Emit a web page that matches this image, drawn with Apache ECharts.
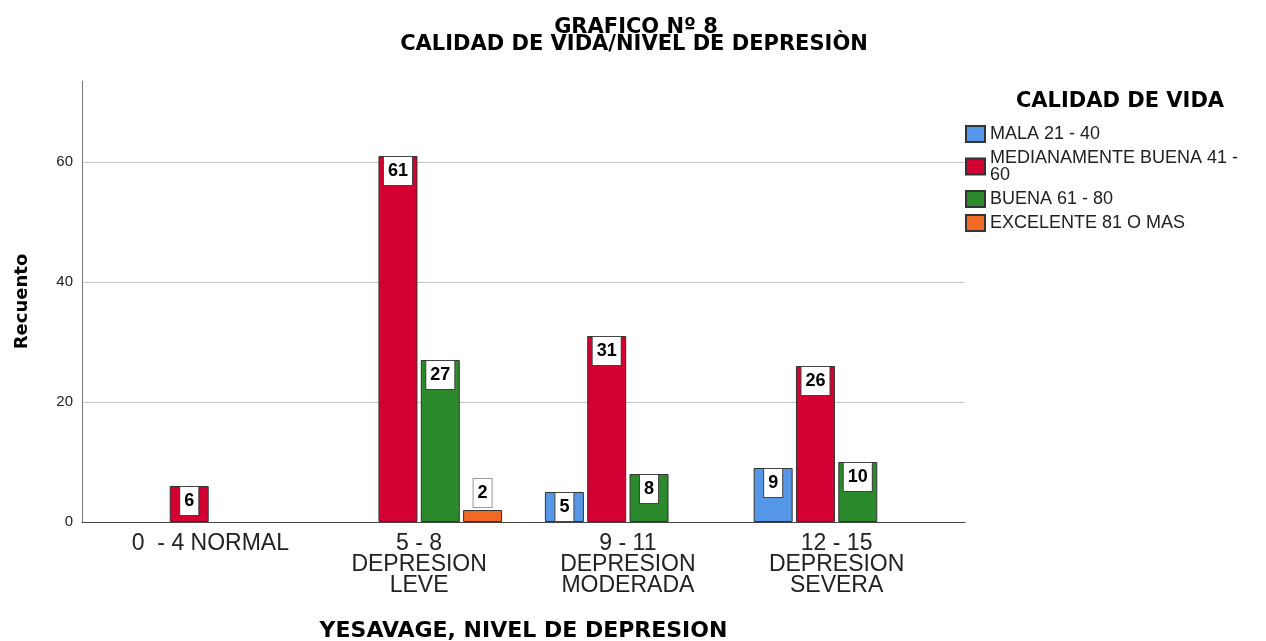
<!DOCTYPE html>
<html>
<head>
<meta charset="utf-8">
<script src="https://cdn.jsdelivr.net/npm/echarts@6/dist/echarts.min.js"></script>
<style>
html,body{margin:0;padding:0;background:#fff;}
#chart{width:1266px;height:641px;}
</style>
</head>
<body>
<div id="chart"></div>
<script>
var titleLine1 = 'GRAFICO Nº 8';
var titleLine2 = 'CALIDAD DE VIDA/NIVEL DE DEPRESIÒN';
var legendTitle = 'CALIDAD DE VIDA';
var xAxisName = 'YESAVAGE, NIVEL DE DEPRESION';
var yAxisName = 'Recuento';
var categories = ['0  - 4 NORMAL', '5 - 8\nDEPRESION\nLEVE', '9 - 11\nDEPRESION\nMODERADA', '12 - 15\nDEPRESION\nSEVERA'];
var seriesNames = ['MALA 21 - 40', 'MEDIANAMENTE BUENA 41 - 60', 'BUENA 61 - 80', 'EXCELENTE 81 O MAS'];
var mala = [null, null, 5, 9];
var medianamente = [6, 61, 31, 26];
var buena = [null, 27, 8, 10];
var excelente = [null, 2, null, null];
var seriesValues = [mala, medianamente, buena, excelente];
var seriesColors = ['#5596E6', '#D50032', '#2B8A2B', '#F06A26'];
var yMin = 0, yMax = 73.5, yInterval = 20;

var chart = echarts.init(document.getElementById('chart'));

function toData(vals) {
  return vals.map(function (v) {
    if (v === null) return null;
    if (v < 4) {
      return { value: v, label: { position: 'top', distance: 3, borderColor: '#999' } };
    }
    return v;
  });
}

function wrapLegend(name) {
  if (name.length <= 24) return name;
  var idx = name.lastIndexOf(' ', 24);
  return name.slice(0, idx) + '\n' + name.slice(idx + 1);
}

var font = 'Liberation Sans, Arial, sans-serif';
var headFont = 'DejaVu Sans, Liberation Sans, sans-serif';

var series = seriesNames.map(function (n, i) {
  return {
    name: n,
    type: 'bar',
    xAxisIndex: 1,
    yAxisIndex: 1,
    data: toData(seriesValues[i]),
    barWidth: 39,
    barGap: '8.5%',
    itemStyle: { color: seriesColors[i], borderColor: '#333', borderWidth: 1 },
    label: {
      show: true,
      position: 'insideTop',
      distance: 1,
      color: '#000',
      fontFamily: font,
      fontWeight: 'bold',
      fontSize: 18,
      lineHeight: 18,
      backgroundColor: '#fff',
      borderColor: '#444',
      borderWidth: 1,
      padding: [5, 4, 5, 4]
    },
    emphasis: { disabled: true }
  };
});

chart.setOption({
  animation: false,
  textStyle: { fontFamily: font },
  title: [
    { text: titleLine1, left: 636, top: 17, textAlign: 'center', padding: 0,
      textStyle: { fontFamily: headFont, fontSize: 21, fontWeight: 'bold', color: '#000', lineHeight: 21 } },
    { text: titleLine2, left: 634, top: 34, textAlign: 'center', padding: 0,
      textStyle: { fontFamily: headFont, fontSize: 21, fontWeight: 'bold', color: '#000', lineHeight: 21 } },
    { text: legendTitle, left: 1120, top: 91, textAlign: 'center', padding: 0,
      textStyle: { fontFamily: headFont, fontSize: 21, fontWeight: 'bold', color: '#000', lineHeight: 21 } }
  ],
  legend: {
    orient: 'vertical',
    left: 965,
    top: 125,
    padding: 0,
    itemWidth: 19,
    itemHeight: 16,
    itemGap: 6,
    icon: 'rect',
    selectedMode: false,
    data: seriesNames,
    formatter: wrapLegend,
    textStyle: { fontFamily: font, fontSize: 18, color: '#222', lineHeight: 17 }
  },
  grid: [
    { left: 82, right: 301, top: 81, bottom: 119, outerBoundsMode: 'none', containLabel: false },
    { left: 106, right: 325, top: 81, bottom: 119, outerBoundsMode: 'none', containLabel: false }
  ],
  xAxis: [
    {
      gridIndex: 0, type: 'value', min: 0, max: 1,
      axisLine: { show: true, lineStyle: { color: '#444', width: 1 } },
      axisTick: { show: false }, axisLabel: { show: false }, splitLine: { show: false },
      name: xAxisName, nameLocation: 'middle', nameGap: 98,
      nameTextStyle: { fontFamily: headFont, fontSize: 22, fontWeight: 'bold', color: '#000' }
    },
    {
      gridIndex: 1, type: 'category', data: categories,
      axisLine: { show: false }, axisTick: { show: false },
      axisLabel: { interval: 0, margin: 11, fontFamily: font, fontSize: 23, lineHeight: 21, color: '#222' }
    }
  ],
  yAxis: [
    {
      gridIndex: 0, type: 'value', min: yMin, max: yMax, interval: yInterval,
      axisLine: { show: true, lineStyle: { color: '#777', width: 1 } },
      axisTick: { show: false },
      axisLabel: {
        margin: 9, fontFamily: font, fontSize: 15, color: '#222', showMaxLabel: false,
        formatter: function (v) { return v % yInterval === 0 ? String(v) : ''; }
      },
      splitLine: { show: true, showMaxLine: false, lineStyle: { color: '#c6c6c6', width: 1 } },
      name: yAxisName, nameLocation: 'middle', nameGap: 51,
      nameTextStyle: { fontFamily: headFont, fontSize: 18, fontWeight: 'bold', color: '#000' }
    },
    {
      gridIndex: 1, type: 'value', min: yMin, max: yMax, interval: yInterval, show: false
    }
  ],
  series: series
});
</script>
</body>
</html>
